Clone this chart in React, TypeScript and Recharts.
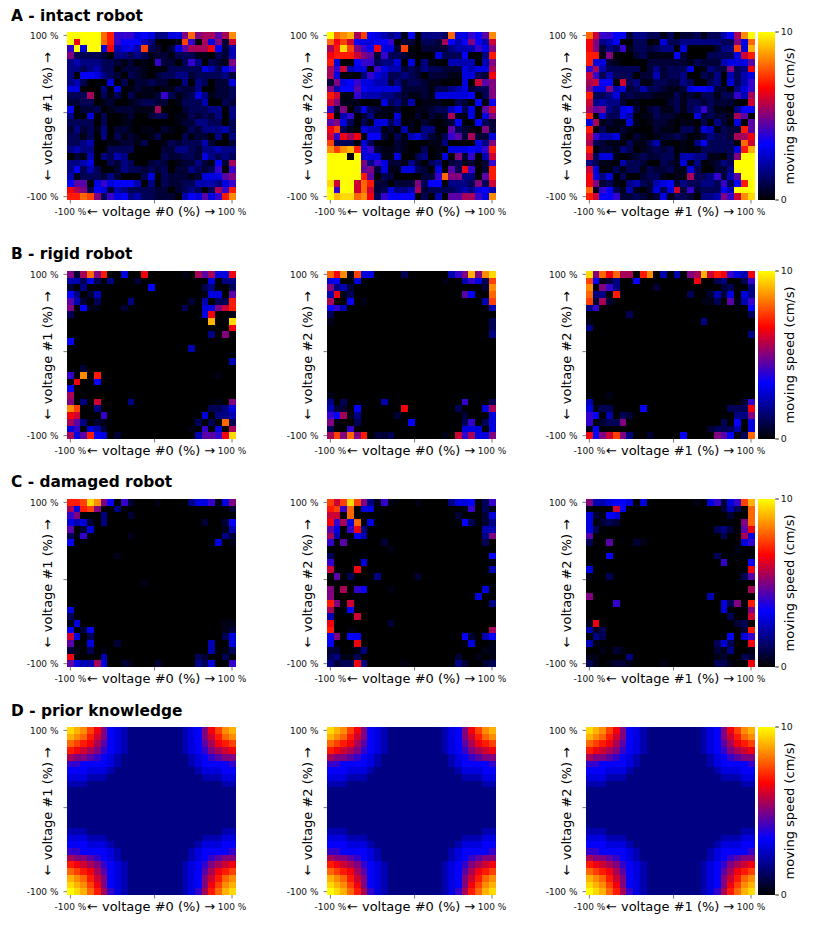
import { BarChart, Bar, ScatterChart, Scatter, XAxis, YAxis } from 'recharts';

// one character per cell, top row first: index in CODES gives the moving speed in speedByCode
const CODES = '0123456789abcdefghijk';
const speedByCode = [0, 0.3, 0.7, 1.1, 1.7, 2.3, 2.9, 3.4, 4, 4.5, 5, 5.5, 6, 6.5, 7, 7.5, 8, 8.5, 9, 9.5, 10];

const intactV0V1 = [
  'kkkkk ge888 67644 66aga bb9bh',
  'kdkkk ge877 75400 01f80 b6a2c',
  '8k6kk 6d566 5f320 269bb bd725',
  'a3333 20443 43122 13331 10325',
  '45444 33212 01082 20384 0321a',
  '44345 33022 21001 33333 65368',
  '40776 43203 21023 34423 33342',
  '45300 06030 22322 00404 30226',
  '66000 40601 21101 13224 00223',
  '333b0 31303 11128 31236 41223',
  '22330 12001 23322 01333 50032',
  '70223 01222 111b0 00233 34404',
  '40060 30012 00233 01132 32404',
  '33330 30011 00000 01224 43303',
  '24231 40221 01102 10132 44453',
  '33130 40312 10130 00312 20404',
  '33450 01122 13001 32333 52002',
  '45440 03333 00002 24432 44544',
  '02150 43540 00003 22332 64343',
  '44560 03243 00232 01224 2172b',
  '47353 00243 32323 02243 23808',
  '51333 24200 03603 22212 6669a',
  '79906 86777 50403 22335 55468',
  'dba37 62543 33322 02343 03b8e',
  'eegfa 38674 53322 20576 968eh',
];

const intactV0V2 = [
  'kghib f7654 51704 443g6 6879h',
  'gdfc7 66778 02203 32b75 7a75c',
  'bejfa 87d66 2f002 22245 5586a',
  'deeec a9283 32100 06333 7004e',
  'e6007 88344 60604 10055 5505a',
  'b8c56 60865 52324 33222 6566b',
  'b6000 48653 34320 22211 6632d',
  '2a678 66552 42332 11000 60c9a',
  'a5779 76666 62222 13345 6233a',
  'ec118 55544 32112 16666 6703a',
  'ca111 00063 42501 11003 20707',
  '82a03 63211 20011 23357 3609c',
  'd0580 24110 60020 212b1 1606a',
  '9a630 31663 50102 10127 00732',
  'df310 65512 05104 40093 210a2',
  'c8dbd 07720 31564 21389 2b226',
  'f3330 63000 21000 11400 0064a',
  'hfhie 68211 21003 01066 6768e',
  'kkk0k 66611 60034 0160a 2805c',
  'kkkkk a4862 21420 34023 12028',
  'kkkkk 9a261 16632 06093 d802e',
  'kkkkk e9032 00002 28gaa 4409e',
  'jckkc ge220 222a3 77044 43a3c',
  'k8kkc gc236 445b2 33334 54675',
  'kijjg hd387 77703 05099 bb86h',
];

const intactV1V2 = [
  'gc887 72443 31302 23133 57bhk',
  'da457 00330 16334 44444 33a6g',
  'da243 81332 34406 00002 44f6i',
  'ee1a0 00231 11172 00033 336ce',
  'e6621 00002 22222 13222 56669',
  '8b533 33302 42333 60143 2a34d',
  'c8353 33022 52334 00324 05356',
  'bc770 c3411 33224 30034 06358',
  'a66a5 62353 32112 67762 20468',
  'e3346 23222 11131 21331 3385b',
  'c4544 20100 00231 33232 2200c',
  'b9a43 67202 31131 34831 10477',
  'e0633 65011 32210 06232 21b90',
  '6b121 16101 22101 10304 20609',
  'e0311 21000 21103 31651 322e9',
  'c8556 10210 12232 01243 32bbd',
  'b3211 03113 51001 04733 330gc',
  'e0221 43012 32301 01333 336ei',
  'c3661 01232 23315 54411 03akk',
  '43110 53320 03216 14012 43kkk',
  'c6013 13313 22311 63002 24kkk',
  'd6460 30023 31011 b3348 259kk',
  'da231 04532 56724 33443 837ek',
  'g1873 15102 636c2 82333 75kkk',
  'ec778 22321 26133 20445 a8chj',
];

const rigidV0V1 = [
  'a2bga e0060 0d000 0010b 9b66d',
  '55363 04000 20000 00000 06044',
  '20400 00000 00700 00000 34003',
  '74025 00000 00000 00000 16609',
  '95203 00004 00000 00020 5033e',
  'a0711 00020 00000 00300 66ace',
  '30000 00000 00000 00000 6d001',
  '00000 00000 00000 00000 0i00j',
  '00000 00000 00000 00000 0000d',
  '00000 00000 00000 00000 040a0',
  '70000 00000 00000 00000 00000',
  '00000 00000 00000 00050 00000',
  '00000 00000 00000 00000 00000',
  '00000 00000 00000 00000 00005',
  '00200 00000 00000 00000 00000',
  '80h0e 00000 00000 00000 00100',
  '0d007 00000 00000 00000 00000',
  '70000 00000 00000 00000 00000',
  'b0000 00000 00000 00000 00000',
  'a040c 00004 00000 00000 0010a',
  'hf004 00000 00000 00000 03346',
  'dc000 80000 00000 00000 60445',
  'b9402 10000 00000 00003 030g3',
  '68065 20000 00000 00010 8060b',
  'b69e7 60200 00000 00005 998dj',
];

const rigidV0V2 = [
  'gdh1f 66000 03000 00058 aiahj',
  '67006 00000 00000 00100 5863f',
  'a4520 00000 00000 00000 0002h',
  '5d130 00000 00000 00000 9700g',
  'b0070 10000 00000 00000 0005f',
  '78500 00000 00000 00000 00005',
  '30000 00000 00000 00000 00000',
  '10000 00000 00000 00000 00003',
  '00000 00000 00000 00000 00003',
  '00000 00000 00000 00000 00004',
  '00000 00000 00000 00000 00000',
  '00000 00000 00000 00000 00000',
  '00000 00000 00000 00000 00000',
  '00000 00000 00000 00000 00000',
  '00000 00000 00000 00000 00000',
  '00000 00000 00000 00000 00000',
  '00000 00000 00000 00000 00000',
  '00000 00000 00000 00000 00000',
  '10000 00000 00000 00000 00000',
  '40300 00050 00000 00000 80003',
  '52207 00000 0d000 00003 0006b',
  '87b14 00000 20000 00000 20006',
  'a0003 00000 00700 00000 38036',
  '30080 00000 00000 00000 66606',
  'bfaga e0223 00000 0010c 8b66a',
];

const rigidV1V2 = [
  'jagdg bb0eh 05050 abice d865d',
  'f7124 00700 00000 0d003 40038',
  'h0a84 00000 20000 00000 23004',
  'g440e 00000 00000 30025 26064',
  'f2b20 00000 00000 00113 09158',
  '48000 00000 00000 00000 00007',
  '00000 03000 00000 00000 00003',
  '10000 00000 00000 00400 00000',
  '40000 00000 00000 00000 00000',
  '00000 00000 00000 00000 00004',
  '00000 00000 00000 00000 00000',
  '00000 00000 00000 00000 00000',
  '00000 00000 00000 00000 00000',
  '00000 00000 00000 00000 00000',
  '00000 00000 00000 00000 00000',
  '00000 00000 00000 00000 00000',
  '00000 00000 00000 00000 00000',
  '00000 00000 00000 00000 00000',
  '00010 00000 00000 00000 00000',
  '50000 00000 00000 00000 00028',
  '61330 00070 00000 00000 0333d',
  '87050 32000 00000 00000 0044a',
  '80233 a0000 00000 00000 30706',
  '17000 00000 00000 00023 33506',
  'd7acf a4002 00007 0000a 9713g',
];

const damagedV0V1 = [
  'eefjh a7082 00010 00046 6816a',
  'b6efa 00400 00000 00000 00002',
  '8a000 40002 00000 00000 00000',
  '65620 40000 00000 00000 20027',
  '90260 00000 00000 00000 00015',
  '31800 00001 00000 00000 00042',
  '70000 00000 00000 00000 00601',
  '00000 00000 00000 00000 00000',
  '00000 00100 00000 00000 00000',
  '00000 00000 00000 00000 00000',
  '00000 00000 00000 00000 00000',
  '00000 00000 00000 00000 00000',
  '00000 00000 01000 00000 00000',
  '00000 00000 00000 00000 00000',
  '00000 00000 00000 00000 00000',
  '00000 00000 00000 00000 00000',
  '60000 00000 00000 00000 00000',
  '30000 00000 00000 00000 00000',
  '16000 00000 00000 00000 00011',
  '70270 00000 00000 00000 00012',
  'c6030 00000 00000 00000 00036',
  '90060 00200 00000 00000 05006',
  '21030 10000 00000 00000 05013',
  'd0000 50000 00000 00003 20030',
  '9655b 60021 00020 00004 36008',
];

const damagedV0V2 = [
  'fcfjf a4181 00010 00046 67038',
  'ef8g0 66000 00000 00000 18031',
  'cc0g0 00000 00000 00002 00026',
  'd8b6g 06000 00000 00000 73024',
  '9608d 40000 00000 00000 00055',
  'b5007 50000 00000 00000 0004a',
  '80900 00020 00000 00000 00030',
  '00000 00001 00000 00000 00000',
  '30000 00000 00000 00000 00007',
  '80000 60000 00000 00000 00000',
  'c000d 00000 00000 00000 00005',
  '09030 00400 00020 00000 00000',
  '00000 00000 00000 00000 00000',
  'a0b08 70001 00000 00000 00060',
  'a0000 00000 00000 00000 00600',
  'ea0c0 00000 00000 00000 00004',
  'b0070 00000 00000 00000 00000',
  '5000c 00000 00000 00000 00000',
  'd0000 00002 00000 00000 00000',
  'e0010 00000 00000 00000 0000b',
  '7a077 00000 00000 00000 72057',
  '7000d 00000 00000 00000 16001',
  '22001 40000 00000 00000 00011',
  '34113 00000 00000 00002 00101',
  '4233d 40000 01000 00004 20023',
];

const damagedV1V2 = [
  'a5567 76060 00000 01068 268fi',
  '1000c 70000 00000 00000 2530g',
  '62176 00000 00000 00000 0200g',
  '60232 00000 00000 00000 000ag',
  '63000 00000 00000 00003 4209d',
  '90000 00000 00000 00000 300b6',
  '30090 00210 00000 00000 00068',
  '00000 00000 00000 00000 00100',
  '00070 00000 00000 00003 00000',
  '00000 00000 00000 00000 80007',
  '60000 00000 00000 00000 0000d',
  '10030 00000 00000 00000 00039',
  '00000 00000 00000 00000 00000',
  '00000 00000 00000 00000 0000b',
  'a0000 00000 00000 00050 00000',
  '00008 00000 00000 00000 63a0e',
  '00000 00000 00000 00000 6000a',
  '00000 00000 00000 00000 0300c',
  '1d000 00000 00000 00000 00230',
  '51300 00000 00000 00000 0002e',
  '04300 00000 00000 00000 07068',
  '51000 00000 00000 00003 6300d',
  '00102 10000 00000 00002 14001',
  '11000 04000 00000 00001 20032',
  '31012 21000 01000 00003 3100d',
];

const priorKnowledge = [
  'jihfd a7654 44444 44567 adfhi',
  'ihgec a7654 44444 44567 acegh',
  'gfedb 97654 44444 44567 9bdef',
  'edcba 87654 44444 44567 8abcd',
  'baa98 76544 44444 44456 789aa',
  '88777 76544 44444 44456 77778',
  '77766 65444 44444 44445 66677',
  '66655 54444 44444 44444 55566',
  '55544 44444 44444 44444 44455',
  '44444 44444 44444 44444 44444',
  '44444 44444 44444 44444 44444',
  '44444 44444 44444 44444 44444',
  '44444 44444 44444 44444 44444',
  '44444 44444 44444 44444 44444',
  '44444 44444 44444 44444 44444',
  '55544 44444 44444 44444 44455',
  '66655 54444 44444 44444 55566',
  '77766 65444 44444 44445 66677',
  '88777 76544 44444 44456 77778',
  'baa98 76544 44444 44456 789aa',
  'edcba 87654 44444 44567 8abcd',
  'gfedb 97654 44444 44567 9bdef',
  'ihgec a7654 44444 44567 acegh',
  'jihfd a7654 44444 44567 adfhi',
  'kjige b8654 44444 44568 begij',
];

const titles = ['A - intact robot', 'B - rigid robot', 'C - damaged robot', 'D - prior knowledge'];
const speedScale = [{ name: 'speed', top: 10 }];
const speedTicks = [0, 10];
const cellTicks = [0.5, 13, 24.5];

const rowData = [
  [intactV0V1, intactV0V2, intactV1V2],
  [rigidV0V1, rigidV0V2, rigidV1V2],
  [damagedV0V1, damagedV0V2, damagedV1V2],
  [priorKnowledge, priorKnowledge, priorKnowledge],
];
const xLabels = ['←  voltage #0 (%)   →', '←  voltage #0 (%)   →', '←  voltage #1 (%)   →'];
const yLabels = ['←  voltage #1 (%)   →', '←  voltage #2 (%)   →', '←  voltage #2 (%)   →'];

// layout
const PLOT_W = 168.4;
const PLOT_H = 168;
const LEFT_GUTTER = 60;
const TOP_GUTTER = 8;
const BOTTOM_GUTTER = 30;
const RIGHT_GUTTER = 20;
const colLeft = [67.2, 326.7, 586];
const rowTop = [32.2, 270.6, 499, 727.2];
const titleTop = [7.2, 245.2, 473.4, 701.7];
const CELL_W = PLOT_W / 25;
const CELL_H = PLOT_H / 25;

const speedColor = (v: number) => {
  const t = v / 10;
  if (t <= 1 / 3) return `rgb(0,0,${Math.round(t * 3 * 255)})`;
  if (t <= 2 / 3) {
    const k = (t - 1 / 3) * 3;
    return `rgb(${Math.round(k * 255)},0,${Math.round((1 - k) * 255)})`;
  }
  return `rgb(255,${Math.round((t - 2 / 3) * 3 * 255)},0)`;
};

const toCells = (rows: string[]) =>
  rows.flatMap((row, r) =>
    row
      .replace(/ /g, '')
      .split('')
      .map((c, col) => ({ x: col + 0.5, y: 24.5 - r, speed: speedByCode[CODES.indexOf(c)] }))
  );

const xTick = (v: number) => (v === 0.5 ? '-100 %' : v === 24.5 ? '100 %' : '');
const yTick = xTick;

const HeatCell = (props: any) => (
  <rect
    x={props.cx - CELL_W / 2}
    y={props.cy - CELL_H / 2}
    width={CELL_W + 0.4}
    height={CELL_H + 0.4}
    shapeRendering="crispEdges"
    fill={speedColor(props.payload.speed)}
  />
);

const Panel = ({ rows, xLabel, yLabel, left, top }: any) => (
  <div style={{ position: 'absolute', left: left - LEFT_GUTTER, top: top - TOP_GUTTER }}>
    <ScatterChart
      width={LEFT_GUTTER + PLOT_W + RIGHT_GUTTER}
      height={TOP_GUTTER + PLOT_H + BOTTOM_GUTTER}
      margin={{ top: TOP_GUTTER, right: RIGHT_GUTTER, left: 0, bottom: 0 }}
    >
      <XAxis
        dataKey="x"
        type="number"
        domain={[0, 25]}
        ticks={cellTicks}
        interval={0}
        tickFormatter={xTick}
        height={BOTTOM_GUTTER}
        axisLine={false}
        tickLine={{ stroke: '#777' }}
        tickSize={3.5}
        tickMargin={5}
        tick={{ fontSize: 9, fill: '#111' }}
        label={{ value: xLabel, position: 'insideBottom', offset: 14, fontSize: 13, fill: '#000', style: { whiteSpace: 'pre' } }}
      />
      <YAxis
        dataKey="y"
        type="number"
        domain={[0, 25]}
        ticks={cellTicks}
        interval={0}
        tickFormatter={yTick}
        width={LEFT_GUTTER}
        axisLine={false}
        tickLine={{ stroke: '#777' }}
        tickSize={3.5}
        tickMargin={5}
        tick={{ fontSize: 9, fill: '#111' }}
        label={{ value: yLabel, angle: -90, position: 'insideLeft', offset: 40, fontSize: 13, fill: '#000', style: { textAnchor: 'middle', whiteSpace: 'pre' } }}
      />
      <Scatter data={toCells(rows)} shape={HeatCell} isAnimationActive={false} />
    </ScatterChart>
  </div>
);

const ColorBar = ({ id, top }: any) => (
  <div style={{ position: 'absolute', left: 757.7, top: top - TOP_GUTTER }}>
    <BarChart
      width={72}
      height={TOP_GUTTER + PLOT_H + BOTTOM_GUTTER}
      data={speedScale}
      margin={{ top: TOP_GUTTER, right: 0, left: 0, bottom: BOTTOM_GUTTER }}
      barCategoryGap={0}
    >
      <defs>
        <linearGradient id={id} x1="0" y1="1" x2="0" y2="0">
          <stop offset="0%" stopColor="#000000" />
          <stop offset="33.3%" stopColor="#0000ff" />
          <stop offset="66.7%" stopColor="#ff0000" />
          <stop offset="100%" stopColor="#ffff00" />
        </linearGradient>
      </defs>
      <XAxis dataKey="name" hide />
      <YAxis
        orientation="right"
        type="number"
        domain={[0, 10]}
        ticks={speedTicks}
        interval={0}
        width={54.7}
        axisLine={false}
        tickLine={{ stroke: '#222' }}
        tickSize={3.5}
        tickMargin={2}
        tick={{ fontSize: 9.4, fill: '#111' }}
        label={{ value: 'moving speed (cm/s)', angle: -90, position: 'insideLeft', offset: 11, dx: 3, fontSize: 13, fill: '#000', style: { textAnchor: 'middle' } }}
      />
      <Bar dataKey="top" fill={`url(#${id})`} isAnimationActive={false} />
    </BarChart>
  </div>
);

export default function App() {
  return (
    <div style={{ position: 'absolute', left: 0, top: 0, width: 830, height: 934, background: '#fff', fontFamily: '"DejaVu Sans", sans-serif' }}>
      {titles.map((title, r) => (
        <div
          key={title}
          style={{ position: 'absolute', left: 11, top: titleTop[r], fontSize: 15.4, lineHeight: '18px', fontWeight: 700, whiteSpace: 'pre' }}
        >
          {title}
        </div>
      ))}
      {rowData.map((panels, r) =>
        panels.map((rows, c) => (
          <Panel key={`${r}-${c}`} rows={rows} xLabel={xLabels[c]} yLabel={yLabels[c]} left={colLeft[c]} top={rowTop[r]} />
        ))
      )}
      {rowTop.map((top, r) => (
        <ColorBar key={top} id={`speed-${r}`} top={top} />
      ))}
    </div>
  );
}
